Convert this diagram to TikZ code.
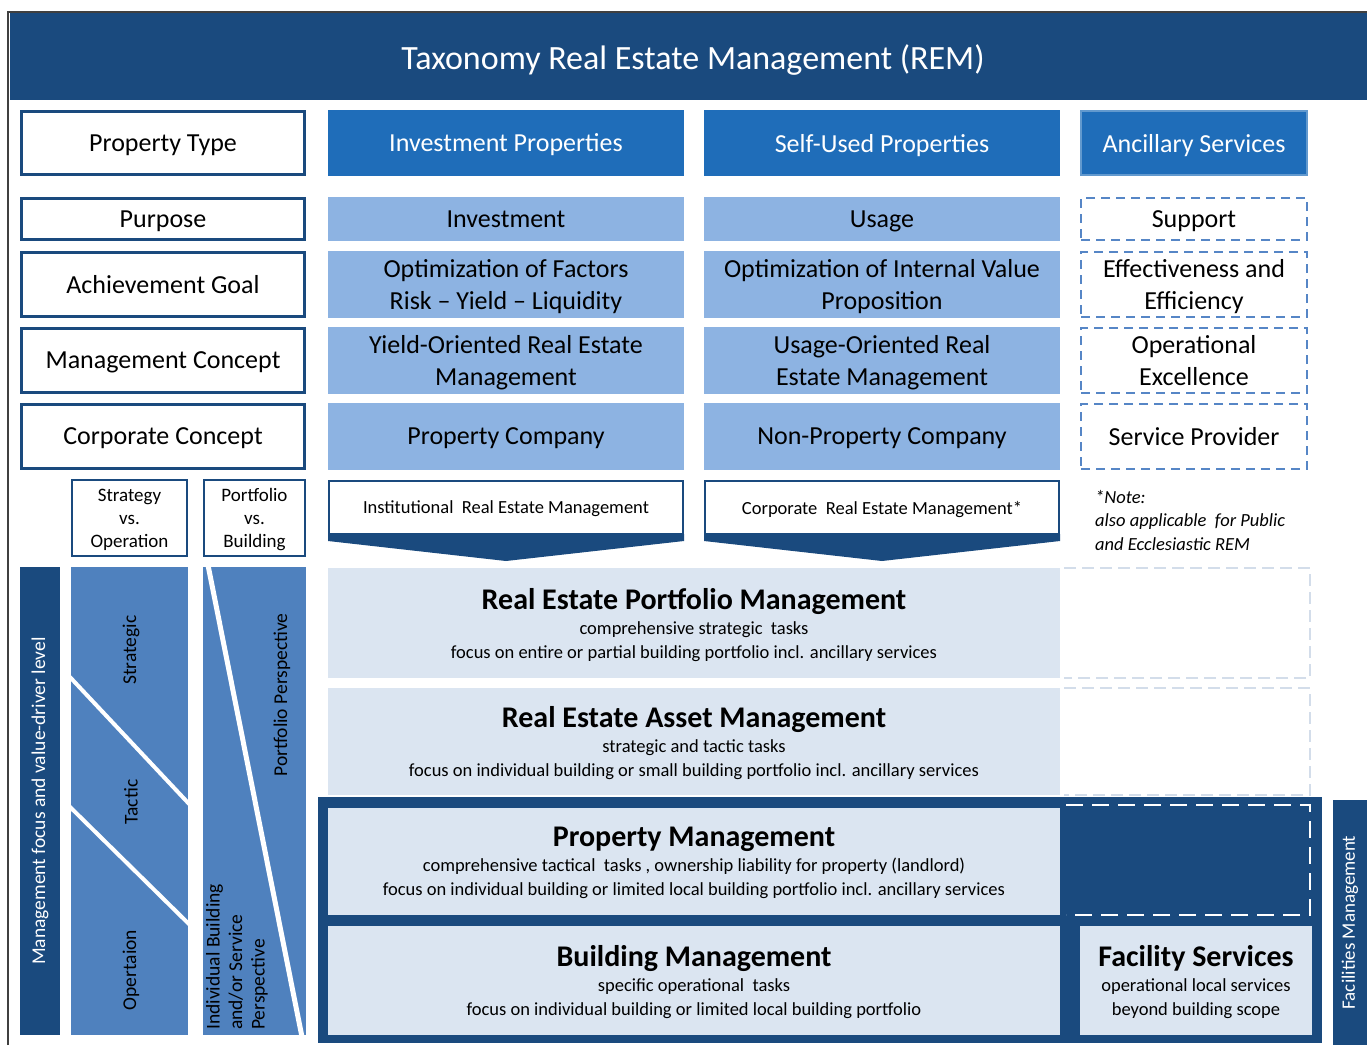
\documentclass[tikz,border=0pt]{standalone}
\usepackage{fontspec}
\setmainfont{Carlito}

\definecolor{navy}{HTML}{1A4A7E}
\definecolor{headblue}{HTML}{1F6DB9}
\definecolor{rowblue}{HTML}{8DB3E2}
\definecolor{barblue}{HTML}{4F81BE}
\definecolor{pale}{HTML}{DBE5F1}
\definecolor{dashblue}{HTML}{5686C6}
\definecolor{faint}{HTML}{D3DDEA}

\newcommand\layertitle[1]{{\fontsize{30}{32}\selectfont\bfseries #1}}

\begin{document}
\begin{tikzpicture}[x=1pt,y=-1pt,
    every node/.style={inner sep=0pt},
    rowfont/.style={font=\fontsize{26}{32}\selectfont,text depth=0pt},
    labelbox/.style={rowfont,draw=navy,line width=3pt,fill=white,minimum width=283pt},
    typebox/.style={rowfont,fill=headblue,text=white,minimum height=66pt},
    rowbox/.style={rowfont,fill=rowblue,align=center,minimum width=356pt},
    servbox/.style={rowfont,draw=dashblue,line width=2.2pt,dash pattern=on 9pt off 6pt,fill=white,align=center,minimum width=226pt},
    smallbox/.style={draw=navy,line width=2pt,fill=white,align=center,minimum height=76pt,text depth=0pt,font=\fontsize{19}{23}\selectfont},
    remsbox/.style={draw=navy,line width=2pt,fill=white,minimum width=354pt,minimum height=53pt,text depth=0pt,font=\fontsize{18.5}{20}\selectfont},
    layer/.style={fill=pale,align=center,minimum width=732pt,text depth=0pt,font=\fontsize{18.5}{24}\selectfont},
    bar/.style={fill=barblue,minimum height=468pt},
    sidetext/.style={rotate=90,font=\fontsize{19.5}{22.5}\selectfont},
    ghost/.style={draw=faint,line width=1.5pt,dash pattern=on 12pt off 6pt}]
    \useasboundingbox (0,0) rectangle (1367,1045);

    % frame and title
    \draw[line width=1.2pt,black!75] (8,1045) -- (8,12) -- (1367,12);
    \fill[navy] (10,13) rectangle (1367,100);
    \node[text=white,font=\fontsize{34}{38}\selectfont] (title) at (693,60) {Taxonomy Real Estate Management (REM)};

    % property type row
    \node[labelbox,minimum height=63pt] (ptype) at (163,143) {Property Type};
    \node[typebox,minimum width=356pt] (invprop) at (506,143) {Investment Properties};
    \node[typebox,minimum width=356pt] (selfprop) at (882,143) {Self-Used Properties};
    \node[typebox,minimum width=226pt,minimum height=64pt,draw=headblue!70!white,line width=2pt] (ancprop) at (1194,143) {Ancillary Services};

    % purpose
    \node[labelbox,minimum height=41pt] (purpose) at (163,219) {Purpose};
    \node[rowbox,minimum height=44pt] (invpurp) at (506,219) {Investment};
    \node[rowbox,minimum height=44pt] (selfpurp) at (882,219) {Usage};
    \node[servbox,minimum height=42pt] (ancpurp) at (1194,219) {Support};

    % achievement goal
    \node[labelbox,minimum height=64pt] (goal) at (163,284.5) {Achievement Goal};
    \node[rowbox,minimum height=67pt] (invgoal) at (506,284.5) {Optimization of Factors\\Risk – Yield – Liquidity};
    \node[rowbox,minimum height=67pt] (selfgoal) at (882,284.5) {Optimization of Internal Value\\Proposition};
    \node[servbox,minimum height=65pt] (ancgoal) at (1194,284.5) {Effectiveness and\\Efficiency};

    % management concept
    \node[labelbox,minimum height=64pt] (mconcept) at (163,360.5) {Management Concept};
    \node[rowbox,minimum height=67pt] (invmc) at (506,360.5) {Yield-Oriented Real Estate\\Management};
    \node[rowbox,minimum height=67pt] (selfmc) at (882,360.5) {Usage-Oriented Real\\Estate Management};
    \node[servbox,minimum height=65pt] (ancmc) at (1194,360.5) {Operational\\Excellence};

    % corporate concept
    \node[labelbox,minimum height=64pt] (cconcept) at (163,436.5) {Corporate Concept};
    \node[rowbox,minimum height=67pt] (invcc) at (506,436.5) {Property Company};
    \node[rowbox,minimum height=67pt] (selfcc) at (882,436.5) {Non-Property Company};
    \node[servbox,minimum height=65pt] (anccc) at (1194,436.5) {Service Provider};

    % dimension boxes
    \node[smallbox,minimum width=115pt] (stratop) at (129.5,518) {Strategy\\vs.\\Operation};
    \node[smallbox,minimum width=101pt] (portbld) at (254.5,518) {Portfolio\\vs.\\Building};

    % REM kinds with their arrows
    \fill[navy] (328,534) -- (684,534) -- (684,541) -- (506,561) -- (328,541) -- cycle;
    \fill[navy] (704,534) -- (1060,534) -- (1060,541) -- (882,561) -- (704,541) -- cycle;
    \node[remsbox] (instrem) at (506,507.5) {Institutional\ \ Real Estate Management};
    \node[remsbox] (corprem) at (882,507.5) {Corporate\ \ Real Estate Management*};
    \node[anchor=west,align=left,font=\fontsize{18.5}{23.5}\selectfont\itshape] (note) at (1095,520) {*Note:\\also applicable\ \ for Public\\and Ecclesiastic REM};

    % management layers
    \node[layer,minimum height=110pt] (repm) at (694,623) {\layertitle{Real Estate Portfolio Management}\\[1pt]comprehensive strategic\ \ tasks\\focus on entire or partial building portfolio incl. ancillary services};
    \draw[ghost] (1064,568) -| (1310,678) -- (1064,678);
    \node[layer,minimum height=107pt] (ream) at (694,741.5) {\layertitle{Real Estate Asset Management}\\[1pt]strategic and tactic tasks\\focus on individual building or small building portfolio incl. ancillary services};
    \draw[ghost] (1064,688) -| (1310,795) -- (1064,795);

    \fill[navy] (318,797) rectangle (1322,1043);
    \node[layer,minimum height=107pt] (pm) at (694,861.5) {\layertitle{Property Management}\\[1pt]comprehensive tactical\ \ tasks , ownership liability for property (landlord)\\focus on individual building or limited local building portfolio incl. ancillary services};
    \draw[white,line width=2.5pt,dash pattern=on 17pt off 9pt] (1066,805) -| (1310,915) -- (1066,915);
    \node[layer,minimum height=109pt] (bm) at (694,980.5) {\layertitle{Building Management}\\[1pt]specific operational\ \ tasks\\focus on individual building or limited local building portfolio};
    \node[layer,minimum width=232pt,minimum height=109pt] (fs) at (1196,980.5) {\layertitle{Facility Services}\\[1pt]operational local services\\beyond building scope};
    \node[rotate=90,fill=navy,text=white,minimum width=245pt,minimum height=34pt,font=\fontsize{19}{20}\selectfont] (fm) at (1350,922.5) {Facilities Management};

    % left bars
    \node[rotate=90,fill=navy,text=white,minimum width=468pt,minimum height=40pt,font=\fontsize{19.5}{20}\selectfont] (focus) at (40,801) {Management focus and value-driver level};
    \node[bar,minimum width=117pt] (sobar) at (129.5,801) {};
    \draw[white,line width=4pt] (68,675) -- (192,807);
    \draw[white,line width=4pt] (68,805) -- (192,927);
    \node[sidetext] (strategic) at (131,650) {Strategic};
    \node[sidetext] (tactic) at (131,802) {Tactic};
    \node[sidetext] (operation) at (131,970) {Opertaion};

    \node[bar,minimum width=103pt] (pbbar) at (254.5,801) {};
    \draw[white,line width=5pt] (208,565) -- (302,1037);
    \node[sidetext] (portview) at (282,695) {Portfolio Perspective};
    \node[sidetext,anchor=west,align=left] (bldview) at (237,1030) {Individual Building\\and/or Service\\Perspective};
\end{tikzpicture}
\end{document}
